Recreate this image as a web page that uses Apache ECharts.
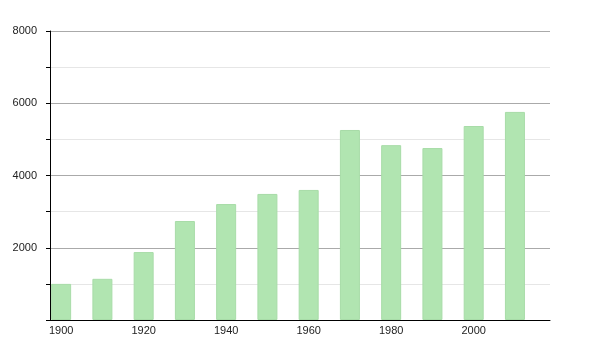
<!DOCTYPE html>
<html><head><meta charset="utf-8">
<script src="https://cdn.jsdelivr.net/npm/echarts@6/dist/echarts.min.js"></script>
<style>html,body{margin:0;padding:0;background:#fff}#c{width:600px;height:350px}</style>
</head><body><div id="c"></div>
<script>
var years = [1900,1910,1920,1930,1940,1950,1960,1970,1980,1990,2000,2010];
var values = [1000,1140,1880,2740,3210,3490,3600,5260,4840,4760,5370,5760];
var xLabels = [1900,1920,1940,1960,1980,2000];
var yLabels = [2000,4000,6000,8000];

var chart = echarts.init(document.getElementById('c'), null, {renderer:'canvas'});
chart.setOption({
  animation:false,
  grid:{left:50,right:50,top:31,bottom:30,containLabel:false},
  xAxis:{
    type:'value', min:1897.3, max:2018.5,
    axisLine:{show:true,lineStyle:{color:'#000',width:1}},
    axisTick:{show:false},
    splitLine:{show:false},
    axisLabel:{customValues:xLabels,color:'#222',fontSize:11,fontFamily:'Liberation Sans, Arial, sans-serif',margin:5,
      formatter:function(v){return String(Math.round(v));}}
  },
  yAxis:{
    type:'value', min:0, max:8000, interval:1000,
    axisLine:{show:true,lineStyle:{color:'#000',width:1}},
    axisTick:{show:true,length:4,inside:false,lineStyle:{color:'#000'}},
    axisLabel:{color:'#222',fontSize:11,fontFamily:'Liberation Sans, Arial, sans-serif',margin:13,
      formatter:function(v){return yLabels.indexOf(v)>=0?String(v):'';}},
    splitLine:{show:true,lineStyle:{color:['#aaaaaa','#e6e6e6'],width:1}}
  },
  series:[{
    type:'bar',
    data:years.map(function(y,i){return [y,values[i]];}),
    barWidth:20,
    itemStyle:{color:'#b1e5b1',borderColor:'#a8dca8',borderWidth:1}
  }]
});
</script></body></html>
